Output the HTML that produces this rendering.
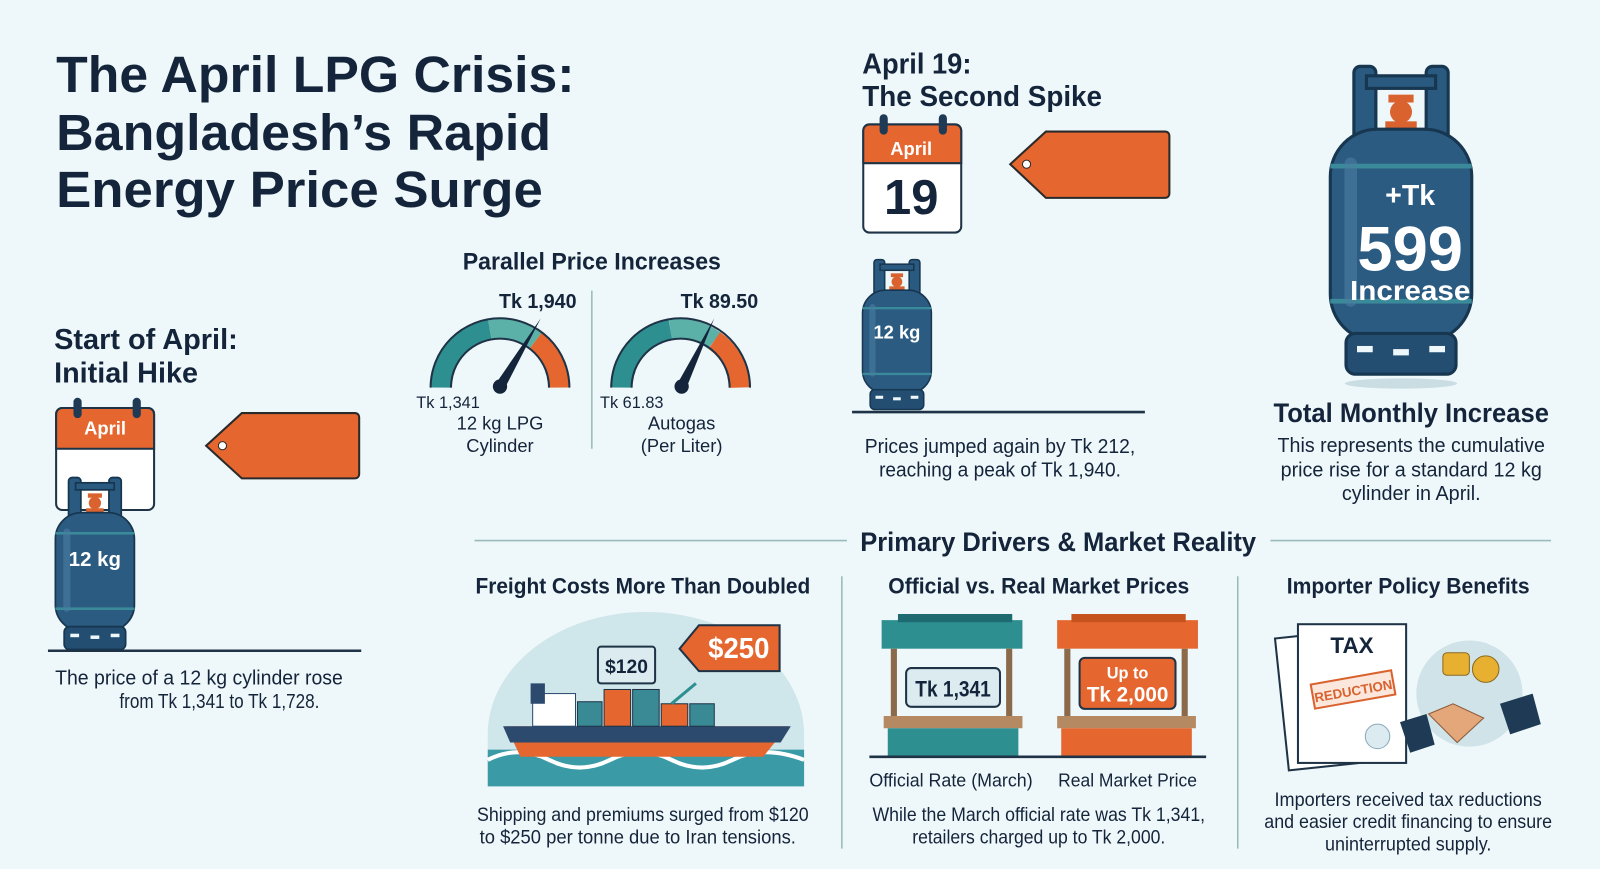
<!DOCTYPE html>
<html><head><meta charset="utf-8"><style>
html,body{margin:0;padding:0;background:#eef7f9;}
svg{display:block}
.t{font-family:"Liberation Sans",sans-serif;font-weight:bold;fill:#14243a}
.n{font-family:"Liberation Sans Narrow","Liberation Sans",sans-serif;fill:#14243a}
.b{font-weight:bold}
</style></head><body>
<svg width="1600" height="869" viewBox="0 0 1568 852" preserveAspectRatio="none" xmlns="http://www.w3.org/2000/svg">
<defs>
<symbol id="cyl" viewBox="0 0 100 200">
  <rect x="20" y="2" width="14" height="50" rx="4" fill="#2a5a80" stroke="#173650" stroke-width="2"/>
  <rect x="66" y="2" width="14" height="50" rx="4" fill="#2a5a80" stroke="#173650" stroke-width="2"/>
  <rect x="28" y="8" width="44" height="8" fill="#2a5a80" stroke="#173650" stroke-width="2"/>
  <rect x="42" y="20" width="16" height="5" fill="#d9622e"/>
  <circle cx="50" cy="31" r="7" fill="#d9622e"/>
  <rect x="40" y="37" width="20" height="6" fill="#d9622e"/>
  <rect x="5" y="42" width="90" height="135" rx="30" fill="#2c5b82" stroke="#173650" stroke-width="2"/>
  <rect x="5" y="64" width="90" height="3" fill="#3b8a9a"/>
  <rect x="5" y="150" width="90" height="3" fill="#3b8a9a"/>
  <rect x="14" y="60" width="8" height="95" rx="4" fill="#4a7fa0" opacity=".6"/>
  <rect x="15" y="172" width="70" height="26" rx="6" fill="#234e72" stroke="#173650" stroke-width="2"/>
  <rect x="22" y="180" width="10" height="4" fill="#eef7f9"/><rect x="45" y="182" width="10" height="4" fill="#eef7f9"/><rect x="68" y="180" width="10" height="4" fill="#eef7f9"/>
</symbol>
</defs>

<!-- Title -->
<text class="t" x="55" y="90" font-size="50" textLength="508" lengthAdjust="spacingAndGlyphs">The April LPG Crisis:</text>
<text class="t" x="55" y="147" font-size="50" textLength="485" lengthAdjust="spacingAndGlyphs">Bangladesh’s Rapid</text>
<text class="t" x="55" y="203" font-size="50" textLength="477" lengthAdjust="spacingAndGlyphs">Energy Price Surge</text>

<!-- Start of April -->
<text class="n b" x="53" y="342" font-size="28" textLength="180" lengthAdjust="spacingAndGlyphs">Start of April:</text>
<text class="n b" x="53" y="375" font-size="28" textLength="141" lengthAdjust="spacingAndGlyphs">Initial Hike</text>
<rect x="55" y="400" width="96" height="100" rx="6" fill="#fff" stroke="#1e3346" stroke-width="2"/>
<path d="M55 440 V406 a6 6 0 0 1 6-6 h84 a6 6 0 0 1 6 6 V440z" fill="#e5672f" stroke="#1e3346" stroke-width="2"/>
<rect x="72" y="390" width="8" height="20" rx="4" fill="#1e3a55"/><rect x="130" y="390" width="8" height="20" rx="4" fill="#1e3a55"/>
<text x="103" y="426" font-size="18" font-family="Liberation Sans" font-weight="bold" fill="#fff" text-anchor="middle">April</text>
<path d="M237 405 H348 a4 4 0 0 1 4 4 V465 a4 4 0 0 1 -4 4 H237 L202 437z" fill="#e5672f" stroke="#2a2a2a" stroke-width="2"/>
<circle cx="218" cy="437" r="4" fill="#fff" stroke="#2a2a2a"/>
<use href="#cyl" x="50" y="465" width="86" height="175"/>
<text x="93" y="555" font-size="20" font-family="Liberation Sans" font-weight="bold" fill="#fff" text-anchor="middle">12 kg</text>
<line x1="47" y1="638" x2="354" y2="638" stroke="#1e3346" stroke-width="2.5"/>
<text class="n" x="195" y="671" font-size="20" text-anchor="middle" textLength="282" lengthAdjust="spacingAndGlyphs">The price of a 12 kg cylinder rose</text>
<text class="n" x="215" y="694" font-size="20" text-anchor="middle" textLength="196" lengthAdjust="spacingAndGlyphs">from Tk 1,341 to Tk 1,728.</text>

<!-- Parallel -->
<text class="n b" x="580" y="264" font-size="24" text-anchor="middle" textLength="253" lengthAdjust="spacingAndGlyphs">Parallel Price Increases</text>
<line x1="580" y1="285" x2="580" y2="440" stroke="#9bb" stroke-width="1.5"/>
<g fill="none" stroke-width="20">
 <path d="M432 380 A58 58 0 0 1 480 323" stroke="#2e8f90"/>
 <path d="M480 323 A58 58 0 0 1 525 334" stroke="#5bb0a8"/>
 <path d="M525 334 A58 58 0 0 1 548 380" stroke="#e5672f"/>
 <path d="M609 380 A58 58 0 0 1 657 323" stroke="#2e8f90"/>
 <path d="M657 323 A58 58 0 0 1 700 334" stroke="#5bb0a8"/>
 <path d="M700 334 A58 58 0 0 1 725 380" stroke="#e5672f"/>
</g>
<g stroke="#1e3346" stroke-width="2" fill="none">
 <path d="M422 380 A68 68 0 0 1 558 380 M442 380 A48 48 0 0 1 538 380"/>
 <path d="M599 380 A68 68 0 0 1 735 380 M619 380 A48 48 0 0 1 715 380"/>
</g>
<path d="M486 376 L530 312 L494 382z" fill="#14243a"/><circle cx="490" cy="379" r="7" fill="#14243a"/>
<path d="M664 376 L700 312 L672 382z" fill="#14243a"/><circle cx="668" cy="379" r="7" fill="#14243a"/>
<text class="n b" x="527" y="302" font-size="20" text-anchor="middle" textLength="76" lengthAdjust="spacingAndGlyphs">Tk 1,940</text>
<text class="n b" x="705" y="302" font-size="20" text-anchor="middle" textLength="76" lengthAdjust="spacingAndGlyphs">Tk 89.50</text>
<text class="n" x="408" y="400" font-size="16">Tk 1,341</text>
<text class="n" x="588" y="400" font-size="16">Tk 61.83</text>
<text class="n" x="490" y="421" font-size="18" text-anchor="middle">12 kg LPG</text>
<text class="n" x="490" y="443" font-size="18" text-anchor="middle">Cylinder</text>
<text class="n" x="668" y="421" font-size="18" text-anchor="middle">Autogas</text>
<text class="n" x="668" y="443" font-size="18" text-anchor="middle">(Per Liter)</text>

<!-- April 19 -->
<text class="n b" x="845" y="72" font-size="28" textLength="107" lengthAdjust="spacingAndGlyphs">April 19:</text>
<text class="n b" x="845" y="104" font-size="28" textLength="235" lengthAdjust="spacingAndGlyphs">The Second Spike</text>
<rect x="846" y="122" width="96" height="106" rx="6" fill="#fff" stroke="#1e3346" stroke-width="2"/>
<path d="M846 160 V128 a6 6 0 0 1 6-6 h84 a6 6 0 0 1 6 6 V160z" fill="#e5672f" stroke="#1e3346" stroke-width="2"/>
<rect x="862" y="112" width="8" height="20" rx="4" fill="#1e3a55"/><rect x="920" y="112" width="8" height="20" rx="4" fill="#1e3a55"/>
<text x="893" y="152" font-size="18" font-family="Liberation Sans" font-weight="bold" fill="#fff" text-anchor="middle">April</text>
<text x="893" y="210" font-size="48" font-family="Liberation Sans" font-weight="bold" fill="#14243a" text-anchor="middle">19</text>
<path d="M1025 129 H1142 a4 4 0 0 1 4 4 V190 a4 4 0 0 1 -4 4 H1025 L990 161z" fill="#e5672f" stroke="#2a2a2a" stroke-width="2"/>
<circle cx="1006" cy="161" r="4" fill="#fff" stroke="#2a2a2a"/>
<use href="#cyl" x="838" y="253" width="82" height="150"/>
<text x="879" y="332" font-size="18" font-family="Liberation Sans" font-weight="bold" fill="#fff" text-anchor="middle">12 kg</text>
<line x1="835" y1="404" x2="1122" y2="404" stroke="#1e3346" stroke-width="2.5"/>
<text class="n" x="980" y="444" font-size="20" text-anchor="middle" textLength="265" lengthAdjust="spacingAndGlyphs">Prices jumped again by Tk 212,</text>
<text class="n" x="980" y="467" font-size="20" text-anchor="middle" textLength="237" lengthAdjust="spacingAndGlyphs">reaching a peak of Tk 1,940.</text>

<!-- big cylinder -->
<ellipse cx="1373" cy="376" rx="55" ry="5" fill="#c9dde3"/>
<use href="#cyl" x="1296" y="55" width="154" height="322"/>
<text x="1382" y="201" font-size="28" font-family="Liberation Sans" font-weight="bold" fill="#fff" text-anchor="middle">+Tk</text>
<text x="1382" y="265" font-size="62" font-family="Liberation Sans" font-weight="bold" fill="#fff" text-anchor="middle">599</text>
<text x="1382" y="294" font-size="27" font-family="Liberation Sans" font-weight="bold" fill="#fff" text-anchor="middle" textLength="118" lengthAdjust="spacingAndGlyphs">Increase</text>
<text class="n b" x="1383" y="414" font-size="26" text-anchor="middle" textLength="270" lengthAdjust="spacingAndGlyphs">Total Monthly Increase</text>
<text class="n" x="1383" y="443" font-size="20" text-anchor="middle" textLength="262" lengthAdjust="spacingAndGlyphs">This represents the cumulative</text>
<text class="n" x="1383" y="467" font-size="20" text-anchor="middle" textLength="256" lengthAdjust="spacingAndGlyphs">price rise for a standard 12 kg</text>
<text class="n" x="1383" y="490" font-size="20" text-anchor="middle" textLength="136" lengthAdjust="spacingAndGlyphs">cylinder in April.</text>

<!-- Drivers -->
<line x1="465" y1="530" x2="830" y2="530" stroke="#9bb" stroke-width="1.5"/>
<line x1="1245" y1="530" x2="1520" y2="530" stroke="#9bb" stroke-width="1.5"/>
<text class="n b" x="1037" y="540" font-size="26" text-anchor="middle" textLength="388" lengthAdjust="spacingAndGlyphs">Primary Drivers &amp; Market Reality</text>
<line x1="825" y1="565" x2="825" y2="832" stroke="#9bb" stroke-width="1.5"/>
<line x1="1213" y1="565" x2="1213" y2="832" stroke="#9bb" stroke-width="1.5"/>
<text class="n b" x="630" y="582" font-size="22" text-anchor="middle" textLength="328" lengthAdjust="spacingAndGlyphs">Freight Costs More Than Doubled</text>
<text class="n b" x="1018" y="582" font-size="22" text-anchor="middle" textLength="295" lengthAdjust="spacingAndGlyphs">Official vs. Real Market Prices</text>
<text class="n b" x="1380" y="582" font-size="22" text-anchor="middle" textLength="238" lengthAdjust="spacingAndGlyphs">Importer Policy Benefits</text>

<!-- ship -->
<path d="M478 770 V720 A155 120 0 0 1 788 720 V770z" fill="#cfe6ea"/>
<rect x="478" y="735" width="310" height="36" fill="#3a9aa6"/>
<path d="M478 745 q30 -15 60 0 t60 0 t60 0 t60 0 t70 0" stroke="#fff" stroke-width="4" fill="none"/>
<path d="M496 712 H772 L748 742 H510z" fill="#e5672f"/>
<path d="M493 712 H775 L765 728 H500z" fill="#2c4a6e"/>
<rect x="522" y="680" width="42" height="32" fill="#fff" stroke="#2c4a6e"/>
<rect x="520" y="670" width="14" height="20" fill="#2c4a6e"/>
<g stroke="#1e3346" stroke-width="1">
<rect x="566" y="688" width="24" height="24" fill="#3a8a96"/><rect x="592" y="676" width="26" height="36" fill="#e5672f"/>
<rect x="620" y="676" width="26" height="36" fill="#3a8a96"/><rect x="648" y="690" width="26" height="22" fill="#e5672f"/><rect x="676" y="690" width="24" height="22" fill="#3a8a96"/>
</g>
<path d="M658 690 L682 670" stroke="#2e8f90" stroke-width="3"/>
<rect x="586" y="634" width="56" height="36" rx="3" fill="#dcebef" stroke="#1e3346" stroke-width="2"/>
<text class="n b" x="614" y="660" font-size="19" text-anchor="middle" textLength="42" lengthAdjust="spacingAndGlyphs">$120</text>
<path d="M685 613 H764 V658 H685 L666 636z" fill="#e5672f" stroke="#1e3346" stroke-width="2"/>
<text x="724" y="645" font-size="28" font-family="Liberation Sans" font-weight="bold" fill="#fff" text-anchor="middle" textLength="60" lengthAdjust="spacingAndGlyphs">$250</text>
<text class="n" x="630" y="805" font-size="19" text-anchor="middle" textLength="325" lengthAdjust="spacingAndGlyphs">Shipping and premiums surged from $120</text>
<text class="n" x="625" y="827" font-size="19" text-anchor="middle" textLength="310" lengthAdjust="spacingAndGlyphs">to $250 per tonne due to Iran tensions.</text>

<!-- stalls -->
<g>
 <rect x="864" y="608" width="138" height="28" fill="#2e8f90"/>
 <rect x="880" y="602" width="112" height="8" fill="#1d6a70"/>
 <rect x="873" y="636" width="6" height="76" fill="#8a6a4a"/><rect x="986" y="636" width="6" height="76" fill="#8a6a4a"/>
 <rect x="866" y="702" width="136" height="12" fill="#b58a62"/>
 <rect x="870" y="714" width="128" height="28" fill="#2e8f90"/>
 <rect x="888" y="655" width="92" height="38" rx="5" fill="#dcebef" stroke="#1e3346" stroke-width="2"/>
 <text class="n b" x="934" y="683" font-size="22" text-anchor="middle" textLength="74" lengthAdjust="spacingAndGlyphs">Tk 1,341</text>
 <rect x="1036" y="608" width="138" height="28" fill="#e5672f"/>
 <rect x="1050" y="602" width="112" height="8" fill="#c5521f"/>
 <rect x="1043" y="636" width="6" height="76" fill="#8a6a4a"/><rect x="1158" y="636" width="6" height="76" fill="#8a6a4a"/>
 <rect x="1036" y="702" width="136" height="12" fill="#b58a62"/>
 <rect x="1040" y="714" width="128" height="28" fill="#e5672f"/>
 <rect x="1058" y="645" width="94" height="50" rx="5" fill="#e5672f" stroke="#1e3346" stroke-width="2"/>
 <text x="1105" y="665" font-size="16" font-family="Liberation Sans" font-weight="bold" fill="#fff" text-anchor="middle">Up to</text>
 <text x="1105" y="688" font-size="21" font-family="Liberation Sans" font-weight="bold" fill="#fff" text-anchor="middle" textLength="80" lengthAdjust="spacingAndGlyphs">Tk 2,000</text>
 <line x1="852" y1="742" x2="1182" y2="742" stroke="#1e3346" stroke-width="2.5"/>
</g>
<text class="n" x="932" y="771" font-size="18" text-anchor="middle" textLength="160" lengthAdjust="spacingAndGlyphs">Official Rate (March)</text>
<text class="n" x="1105" y="771" font-size="18" text-anchor="middle" textLength="136" lengthAdjust="spacingAndGlyphs">Real Market Price</text>
<text class="n" x="1018" y="805" font-size="19" text-anchor="middle" textLength="326" lengthAdjust="spacingAndGlyphs">While the March official rate was Tk 1,341,</text>
<text class="n" x="1018" y="827" font-size="19" text-anchor="middle" textLength="248" lengthAdjust="spacingAndGlyphs">retailers charged up to Tk 2,000.</text>

<!-- tax -->
<rect x="1256" y="620" width="110" height="130" fill="#fff" stroke="#1e3346" stroke-width="2" transform="rotate(-6 1310 685)"/>
<rect x="1272" y="612" width="106" height="136" fill="#fff" stroke="#1e3346" stroke-width="2"/>
<text class="n b" x="1325" y="640" font-size="22" text-anchor="middle">TAX</text>
<rect x="1286" y="664" width="80" height="24" fill="#fbe7dc" stroke="#d9622e" stroke-width="2" transform="rotate(-10 1326 676)"/>
<text x="1326" y="682" font-size="13" font-family="Liberation Sans" font-weight="bold" fill="#d9622e" text-anchor="middle" transform="rotate(-10 1326 676)">REDUCTION</text>
<circle cx="1350" cy="722" r="12" fill="#dcebef" stroke="#8ab"/>
<circle cx="1440" cy="680" r="52" fill="#cfe3e8"/>
<g fill="#e8b030" stroke="#8a6a20"><rect x="1414" y="640" width="26" height="22" rx="4"/><circle cx="1456" cy="656" r="13"/></g>
<path d="M1400 700 l24 -10 l30 14 l-26 24 z" fill="#e3a77a" stroke="#8a5a3a"/>
<path d="M1372 708 l26 -8 l8 30 l-24 8z" fill="#1e3a55"/>
<path d="M1470 690 l32 -10 l8 30 l-30 10z" fill="#1e3a55"/>
<text class="n" x="1380" y="790" font-size="19" text-anchor="middle" textLength="262" lengthAdjust="spacingAndGlyphs">Importers received tax reductions</text>
<text class="n" x="1380" y="812" font-size="19" text-anchor="middle" textLength="282" lengthAdjust="spacingAndGlyphs">and easier credit financing to ensure</text>
<text class="n" x="1380" y="834" font-size="19" text-anchor="middle" textLength="163" lengthAdjust="spacingAndGlyphs">uninterrupted supply.</text>
</svg>
</body></html>
